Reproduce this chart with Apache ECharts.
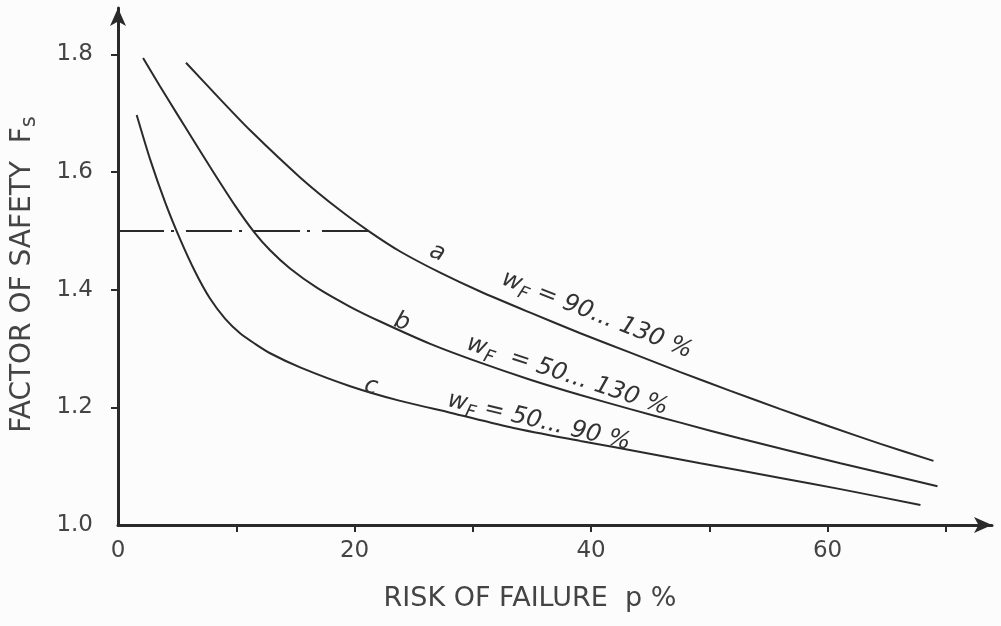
<!DOCTYPE html>
<html>
<head>
<meta charset="utf-8">
<script src="https://cdn.jsdelivr.net/npm/echarts@6/dist/echarts.min.js"></script>
<style>
html,body{margin:0;padding:0;background:#fcfcfc;}
#chart{width:1001px;height:626px;}
</style>
</head>
<body>
<div id="chart"></div>
<script>
// Risk of failure p (%) and factor of safety Fs for the three curves
const curveA = [[5.75,1.786],[8.63,1.724],[11.17,1.671],[15.40,1.591],[18.78,1.535],[21.32,1.498],[23.86,1.465],[27.24,1.429],[30.63,1.397],[34.86,1.361],[39.09,1.326],[43.32,1.293],[47.55,1.260],[51.78,1.228],[56.01,1.197],[60.24,1.167],[64.47,1.138],[68.95,1.109]];
const curveB = [[2.12,1.794],[3.55,1.746],[4.99,1.699],[6.35,1.655],[7.78,1.609],[9.90,1.543],[11.51,1.498],[12.86,1.467],[14.55,1.436],[16.84,1.403],[19.63,1.371],[22.17,1.346],[26.40,1.308],[30.63,1.276],[34.86,1.247],[39.09,1.221],[43.32,1.197],[47.55,1.174],[52.62,1.147],[61.08,1.105],[69.29,1.066]];
const curveC = [[1.58,1.697],[2.71,1.622],[3.98,1.549],[5.25,1.486],[6.51,1.431],[7.78,1.385],[9.05,1.351],[10.32,1.326],[11.59,1.308],[12.86,1.292],[15.40,1.268],[19.63,1.236],[23.86,1.211],[28.09,1.191],[33.44,1.165],[39.09,1.143],[44.73,1.122],[49.24,1.105],[56.01,1.080],[61.08,1.061],[67.85,1.034]];
const refLine = [[0,1.5],[21.3,1.5]];
const xTicks = [10,20,30,40,50,60,70];
const xLabels = [0,20,40,60];
const yTicks = [1.2,1.4,1.6,1.8];
const yLabels = [1.0,1.2,1.4,1.6,1.8];
const curveNames = ['a','b','c'];
const rangeTexts = ['90... 130 %','50... 130 %','50... 90 %'];

const FONT = 'DejaVu Sans';
const INK = '#2a2a2a';
const TXT = '#444';

function annot(coord, text, rot, size){
  return {
    coord: coord, symbol: 'circle', symbolSize: 0,
    label: {show: true, position: 'inside', rotate: rot, formatter: text,
      fontFamily: FONT, fontSize: size, fontStyle: 'italic', color: '#333',
      rich: {s: {fontFamily: FONT, fontSize: 18, fontStyle: 'italic', color: '#333', padding: [15,0,0,0]}}}
  };
}

const curveLine = {color: INK, width: 2};

const option = {
  backgroundColor: '#fcfcfc',
  animation: false,
  grid: {left: 118, right: 9, top: 8, bottom: 101},
  xAxis: {
    type: 'value', min: 0, max: 73.9,
    axisLine: {show: true, lineStyle: {color: INK, width: 3}, symbol: ['none','arrow'], symbolSize: [12,18]},
    axisTick: {show: true, customValues: xTicks, length: 7, lineStyle: {color: INK, width: 2}},
    axisLabel: {customValues: xLabels, fontFamily: FONT, fontSize: 23, color: TXT, margin: 15},
    splitLine: {show: false},
    name: 'RISK OF FAILURE  p %', nameLocation: 'middle', nameGap: 60,
    nameTextStyle: {fontFamily: FONT, fontSize: 27, color: TXT, padding: [0,50,0,0]}
  },
  yAxis: {
    type: 'value', min: 1.0, max: 1.879,
    axisLine: {show: true, lineStyle: {color: INK, width: 3}, symbol: ['none','arrow'], symbolSize: [12,18]},
    axisTick: {show: true, customValues: yTicks, length: 7, lineStyle: {color: INK, width: 2}},
    axisLabel: {customValues: yLabels, fontFamily: FONT, fontSize: 23, color: TXT, margin: 25,
      formatter: v => v.toFixed(1)},
    splitLine: {show: false},
    name: 'FACTOR OF SAFETY  F{s|s}', nameLocation: 'middle', nameGap: 78,
    nameTextStyle: {fontFamily: FONT, fontSize: 28, color: TXT, padding: [0,16,0,0],
      rich: {s: {fontFamily: FONT, fontSize: 21, color: TXT, padding: [14,0,0,0]}}}
  },
  series: [
    {type: 'line', data: curveA, showSymbol: false, smooth: 0.25, lineStyle: curveLine,
     markPoint: {silent: true, data: [annot([27.0,1.463], curveNames[0], -22, 24), annot([40.5,1.357], 'w{s|F} = ' + rangeTexts[0], -21.5, 24)]}},
    {type: 'line', data: curveB, showSymbol: false, smooth: 0.25, lineStyle: curveLine,
     markPoint: {silent: true, data: [annot([24.0,1.345], curveNames[1], -18, 24), annot([38.0,1.254], 'w{s|F}  = ' + rangeTexts[1], -18.2, 24)]}},
    {type: 'line', data: curveC, showSymbol: false, smooth: 0.25, lineStyle: curveLine,
     markPoint: {silent: true, data: [annot([21.4,1.235], curveNames[2], -12, 24), annot([35.6,1.176], 'w{s|F} = ' + rangeTexts[2], -13.5, 24)]}},
    {type: 'line', data: refLine, showSymbol: false, lineStyle: {color: INK, width: 2, type: [46,7,3,12]}}
  ]
};

const chart = echarts.init(document.getElementById('chart'), null, {renderer: 'canvas'});
chart.setOption(option);
</script>
</body>
</html>
